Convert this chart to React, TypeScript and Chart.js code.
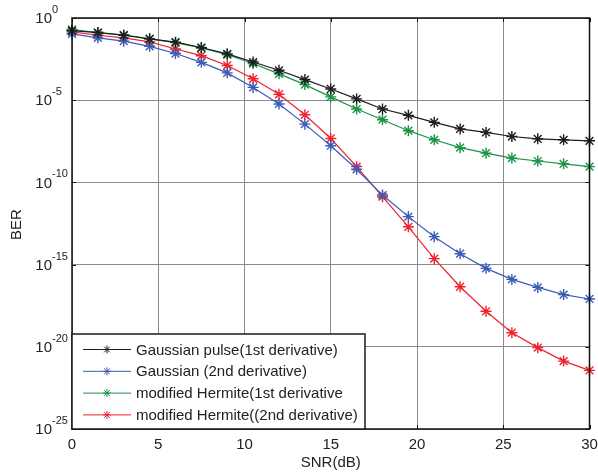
import React, { useEffect, useRef } from 'react';
import { Chart, registerables } from 'chart.js';

Chart.register(...registerables);

const FONT = "'Liberation Sans', Arial, Helvetica, sans-serif";

const snr = [0, 1.5, 3, 4.5, 6, 7.5, 9, 10.5, 12, 13.5, 15, 16.5, 18, 19.5, 21, 22.5, 24, 25.5, 27, 28.5, 30];
const xTicks = [0, 5, 10, 15, 20, 25, 30];
const yTickExponents = [0, -5, -10, -15, -20, -25];

const seriesLabels = [
  'Gaussian pulse(1st derivative)',
  'Gaussian (2nd derivative)',
  'modified Hermite(1st derivative',
  'modified Hermite((2nd derivative)',
];
const seriesColors = ['#1e1e1e', '#3a5cb8', '#1a9448', '#f0222c'];

const gaussianPulse1st = [1.7e-1, 1.3e-1, 8.9e-2, 5.4e-2, 3.4e-2, 1.6e-2, 6.6e-3, 2.1e-3, 6.6e-4, 1.8e-4, 4.8e-5, 1.2e-5, 2.9e-6, 1.2e-6, 4.5e-7, 1.8e-7, 1.1e-7, 6.2e-8, 4.5e-8, 3.9e-8, 3.4e-8];
const gaussian2nd = [1.07e-1, 6.2e-2, 3.9e-2, 1.9e-2, 6.9e-3, 2.0e-3, 4.6e-4, 6.0e-5, 5.9e-6, 3.5e-7, 1.7e-8, 6.3e-10, 1.7e-11, 8.3e-13, 5.0e-14, 4.6e-15, 5.9e-16, 1.26e-16, 4.1e-17, 1.5e-17, 8.1e-18];
const hermite1st = [2.0e-1, 1.3e-1, 9.3e-2, 5.4e-2, 3.2e-2, 1.5e-2, 5.8e-3, 1.7e-3, 4.0e-4, 8.9e-5, 1.6e-5, 2.9e-6, 6.5e-7, 1.4e-7, 3.9e-8, 1.3e-8, 6.0e-9, 3.0e-9, 2.0e-9, 1.35e-9, 9.1e-10];
const hermite2nd = [1.45e-1, 8.9e-2, 6.2e-2, 3.5e-2, 1.3e-2, 5.1e-3, 1.3e-3, 2.0e-4, 2.3e-5, 1.3e-6, 4.7e-8, 9.1e-10, 1.35e-11, 2.0e-13, 2.3e-15, 4.5e-17, 1.45e-18, 7.2e-20, 8.9e-21, 1.35e-21, 3.7e-22];

const seriesValues = [gaussianPulse1st, gaussian2nd, hermite1st, hermite2nd];

const decorPlugin = {
  id: 'decor',
  afterDraw(chart: any) {
    const { ctx, chartArea: a, scales } = chart;
    const xs = scales.x;
    const ys = scales.y;
    ctx.save();

    // inward tick marks
    ctx.strokeStyle = '#111';
    ctx.lineWidth = 1;
    ctx.beginPath();
    xTicks.forEach((v) => {
      const px = Math.round(xs.getPixelForValue(v)) + 0.5;
      ctx.moveTo(px, a.bottom);
      ctx.lineTo(px, a.bottom - 4);
      ctx.moveTo(px, a.top);
      ctx.lineTo(px, a.top + 4);
    });
    yTickExponents.forEach((e) => {
      const py = Math.round(ys.getPixelForValue(Math.pow(10, e))) + 0.5;
      ctx.moveTo(a.left, py);
      ctx.lineTo(a.left + 4, py);
      ctx.moveTo(a.right, py);
      ctx.lineTo(a.right - 4, py);
    });
    ctx.stroke();

    // axes box
    ctx.strokeStyle = '#111';
    ctx.lineWidth = 1.5;
    ctx.strokeRect(a.left, a.top, a.right - a.left, a.bottom - a.top);

    // y tick labels with superscripts
    ctx.fillStyle = '#222';
    ctx.textBaseline = 'middle';
    yTickExponents.forEach((e) => {
      const py = ys.getPixelForValue(Math.pow(10, e));
      ctx.font = `15px ${FONT}`;
      ctx.textAlign = 'right';
      ctx.fillText('10', 52, py + 1);
      ctx.font = `11px ${FONT}`;
      ctx.textAlign = 'left';
      ctx.fillText(String(e), 52, py - 8);
    });

    // y axis title
    ctx.save();
    ctx.translate(17, (a.top + a.bottom) / 2 + 1);
    ctx.rotate(-Math.PI / 2);
    ctx.font = `15px ${FONT}`;
    ctx.textAlign = 'center';
    ctx.textBaseline = 'middle';
    ctx.fillText('BER', 0, 0);
    ctx.restore();

    // legend box
    const lx = a.left;
    const ly = 334;
    const lw = 293;
    const lh = a.bottom - ly;
    ctx.fillStyle = '#ffffff';
    ctx.fillRect(lx, ly, lw, lh);
    ctx.strokeStyle = '#1a1a1a';
    ctx.lineWidth = 1.5;
    ctx.strokeRect(lx, ly, lw, lh);

    chart.data.datasets.forEach((ds: any, i: number) => {
      const cy = ly + 15.5 + i * 21.8;
      ctx.strokeStyle = ds.borderColor;
      ctx.lineWidth = 1;
      ctx.beginPath();
      ctx.moveTo(lx + 11, cy);
      ctx.lineTo(lx + 59, cy);
      ctx.stroke();
      // star marker
      const mx = lx + 35;
      const r = 4;
      ctx.beginPath();
      ctx.moveTo(mx - r, cy);
      ctx.lineTo(mx + r, cy);
      ctx.moveTo(mx, cy - r);
      ctx.lineTo(mx, cy + r);
      const d = r * 0.7071;
      ctx.moveTo(mx - d, cy - d);
      ctx.lineTo(mx + d, cy + d);
      ctx.moveTo(mx - d, cy + d);
      ctx.lineTo(mx + d, cy - d);
      ctx.stroke();
      ctx.fillStyle = '#222';
      ctx.font = `15px ${FONT}`;
      ctx.textAlign = 'left';
      ctx.textBaseline = 'middle';
      ctx.fillText(ds.label, lx + 64, cy + 1);
    });

    ctx.restore();
  },
};

export default function App() {
  const canvasRef = useRef<HTMLCanvasElement | null>(null);

  useEffect(() => {
    if (!canvasRef.current) return;
    const datasets = seriesValues.map((vals, i) => ({
      label: seriesLabels[i],
      data: snr.map((x, j) => ({ x, y: vals[j] })),
      borderColor: seriesColors[i],
      backgroundColor: seriesColors[i],
      borderWidth: 1.2,
      pointStyle: 'star',
      pointRadius: 5.5,
      pointBorderWidth: 1.4,
      pointBorderColor: seriesColors[i],
      tension: 0,
      clip: false as any,
    }));

    const chart = new Chart(canvasRef.current, {
      type: 'line',
      data: { datasets },
      options: {
        animation: false,
        responsive: false,
        events: [],
        layout: { padding: { top: 18, right: 0, left: 0, bottom: 0 } },
        plugins: {
          legend: { display: false },
          tooltip: { enabled: false },
        },
        scales: {
          x: {
            type: 'linear',
            min: 0,
            max: 30,
            afterBuildTicks: (s: any) => {
              s.ticks = xTicks.map((v) => ({ value: v }));
            },
            afterFit: (s: any) => {
              s.height = 44;
              s.paddingRight = 8.5;
            },
            grid: { color: '#8a8a8a', lineWidth: 1, drawTicks: false },
            border: { display: false },
            ticks: {
              color: '#222',
              font: { family: FONT, size: 15 },
              padding: 7,
              maxRotation: 0,
              autoSkip: false,
            },
            title: {
              display: true,
              text: 'SNR(dB)',
              color: '#222',
              font: { family: FONT, size: 15 },
              padding: { top: 0, bottom: 1 },
            },
          },
          y: {
            type: 'logarithmic',
            min: 1e-25,
            max: 1,
            afterBuildTicks: (s: any) => {
              s.ticks = yTickExponents.map((e) => ({ value: Math.pow(10, e) }));
            },
            afterFit: (s: any) => {
              s.width = 72;
            },
            grid: { color: '#8a8a8a', lineWidth: 1, drawTicks: false },
            border: { display: false },
            ticks: { display: false },
          },
        },
      },
      plugins: [decorPlugin],
    });
    return () => chart.destroy();
  }, []);

  return (
    <div style={{ position: 'absolute', left: 0, top: 0, width: 598, height: 473, background: '#fff' }}>
      <canvas ref={canvasRef} width={598} height={473} style={{ display: 'block', width: 598, height: 473 }} />
    </div>
  );
}
